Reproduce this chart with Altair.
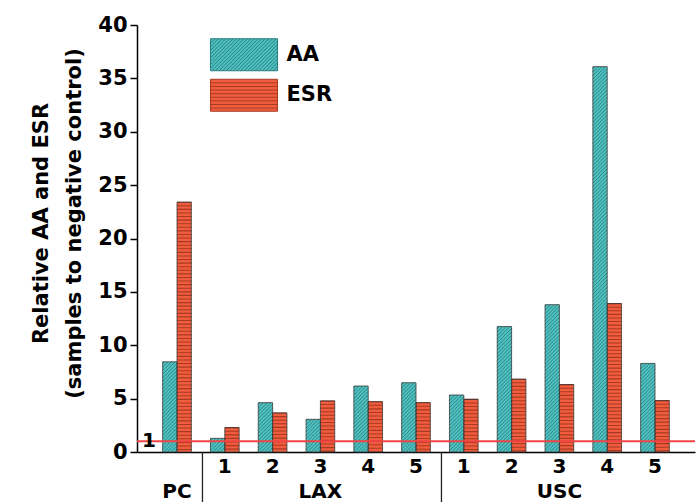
import math

import altair as alt
import pandas as pd

# ---- data -------------------------------------------------------------
categories = ["PC", "LAX-1", "LAX-2", "LAX-3", "LAX-4", "LAX-5",
              "USC-1", "USC-2", "USC-3", "USC-4", "USC-5"]
aa_values = [8.45, 1.28, 4.62, 3.06, 6.18, 6.49, 5.34, 11.75, 13.8, 36.1, 8.3]
esr_values = [23.4, 2.28, 3.65, 4.78, 4.71, 4.62, 4.93, 6.82, 6.31, 13.9, 4.81]
series_names = ["AA", "ESR"]
reference_level = [1]
group_starts = ["LAX-1", "USC-1"]
y_ticks = [0, 5, 10, 15, 20, 25, 30, 35, 40]

# ---- layout / style ---------------------------------------------------
W, H = 558, 427
Y_MAX = 40
PAD_IN, PAD_OUT = 0.4, 0.537
FONT = "DejaVu Sans"

fill_colors = ["#4fc1c0", "#f15d3c"]
hatch_colors = ["#2b7f80", "#a63a26"]
outline_color = "#3a3a3a"
ref_color = "#f04444"

step = W / (len(categories) - PAD_IN + 2 * PAD_OUT)
bar_px = step * (1 - PAD_IN) / 2           # width of one bar in pixels
tile_units = bar_px * Y_MAX / H            # height of a square hatch tile in data units


def diag_lines(a, b, d):
    """'/' hatch lines x + y = c clipped to the box [-a, a] x [-b, b]."""
    segs = []
    k = -100
    while True:
        c = d / 2 + k * d
        k += 1
        if c <= -(a + b):
            continue
        if c >= a + b:
            break
        x0, x1 = max(-a, c - b), min(a, c + b)
        if x1 - x0 > 1e-6:
            segs.append(f"M{x0:.3f},{c - x0:.3f}L{x1:.3f},{c - x1:.3f}")
    return "".join(segs)


def horiz_lines(a, b, d, start):
    segs = []
    y = -b + start * d
    while y < b - 1e-6:
        segs.append(f"M{-a:.3f},{y:.3f}L{a:.3f},{y:.3f}")
        y += d
    return "".join(segs)


# square tiles that repeat seamlessly down a bar
tile_aa = diag_lines(1, 1, 0.5)
tile_esr = horiz_lines(1, 1, 0.5, 0)

# legend swatches: 67 x 32 px boxes with the same hatching
LEG_SIZE = 33.5 ** 2
LA, LB = 2.0, 0.955
ld = 3.6 / (33.5 / 2)
rect = f"M{-LA},{-LB}H{LA}V{LB}H{-LA}Z"
legend_shapes = [rect + diag_lines(LA, LB, ld), rect + horiz_lines(LA, LB, ld, 1)]

# ---- tables -----------------------------------------------------------
bars = pd.DataFrame(
    [{"cat": c, "series": s, "value": v}
     for c, a, e in zip(categories, aa_values, esr_values)
     for s, v in zip(series_names, (a, e))]
)

tile_rows = []
for row in bars.itertuples():
    n = math.ceil(row.value / tile_units)
    for j in range(n):
        tile_rows.append({"cat": row.cat, "series": row.series,
                          "value": row.value - (j + 0.5) * tile_units})
tiles = pd.DataFrame(tile_rows)

ref_df = pd.DataFrame({"value": reference_level})
sep_df = pd.DataFrame({"cat": group_starts})

# ---- scales / axes ----------------------------------------------------
x_scale = alt.Scale(domain=categories, paddingInner=PAD_IN, paddingOuter=PAD_OUT)
y_scale = alt.Scale(domain=[0, Y_MAX], nice=False, zero=True)
off_scale = alt.Scale(domain=series_names)

label_expr = (
    "datum.value == 'PC' ? ['', 'PC'] : "
    "(indexof(datum.value, '-3') > 0 ? "
    "[split(datum.value, '-')[1], split(datum.value, '-')[0]] : "
    "split(datum.value, '-')[1])"
)
x_axis = alt.Axis(
    title=None, labelExpr=label_expr, labelAngle=0, ticks=False,
    labelPadding=4, labelLineHeight=25, labelFont=FONT, labelFontSize=20,
    labelFontWeight="bold", labelColor="black", domainColor="black",
    domainWidth=1.5, labelOverlap=False, labelBound=False, grid=False,
)
y_axis = alt.Axis(
    title=["Relative AA and ESR", "(samples to negative control)"],
    values=y_ticks, tickSize=7, tickWidth=1.5, tickColor="black",
    domainColor="black", domainWidth=1.5, labelFont=FONT, labelFontSize=21,
    labelFontWeight="bold", labelColor="black", labelPadding=3, grid=False,
    titleFont=FONT, titleFontSize=21, titleFontWeight="bold", titleColor="black",
    titleLineHeight=33, titleAngle=-90, titleAlign="center",
    titleBaseline="bottom", titleX=-86, titleY=198,
)

X = alt.X("cat:N", scale=x_scale, axis=x_axis, sort=None)
Y = alt.Y("value:Q", scale=y_scale, axis=y_axis)
XO = alt.XOffset("series:N", scale=off_scale)


def make_legend(**extra):
    return alt.Legend(
        title=None, orient="none", legendX=89.5, legendY=12.25, padding=0,
        symbolSize=LEG_SIZE, symbolStrokeWidth=1, symbolOpacity=1, rowPadding=3.5,
        labelFont=FONT, labelFontSize=21, labelFontWeight="bold",
        labelColor="black", labelOffset=25, **extra,
    )


# ---- layers -----------------------------------------------------------
bar_fill = alt.Chart(bars).mark_bar(opacity=1).encode(
    x=X, xOffset=XO, y=Y,
    color=alt.Color("series:N", scale=alt.Scale(domain=series_names, range=fill_colors),
                    legend=make_legend(symbolType=rect, symbolStrokeColor=outline_color)),
)

hatch_aa = alt.Chart(tiles[tiles.series == "AA"]).mark_point(
    shape=tile_aa, size=bar_px ** 2, filled=False, stroke=hatch_colors[0],
    strokeWidth=0.9, opacity=1, clip=True,
).encode(x=X, xOffset=XO, y=Y)

hatch_esr = alt.Chart(tiles[tiles.series == "ESR"]).mark_point(
    shape=tile_esr, size=bar_px ** 2, filled=False, stroke=hatch_colors[1],
    strokeWidth=1.1, opacity=1, clip=True,
).encode(x=X, xOffset=XO, y=Y)

bar_outline = alt.Chart(bars).mark_bar(
    fillOpacity=0, stroke=outline_color, strokeWidth=0.8, opacity=1,
).encode(x=X, xOffset=XO, y=Y)

# hatched swatches for the legend (the points themselves are not drawn)
legend_key = alt.Chart(bars).mark_point(filled=False, opacity=0).encode(
    x=X, xOffset=XO, y=Y,
    stroke=alt.Stroke("series:N", scale=alt.Scale(domain=series_names, range=hatch_colors),
                      legend=make_legend()),
    shape=alt.Shape("series:N", scale=alt.Scale(domain=series_names, range=legend_shapes),
                    legend=make_legend()),
)

ref_line = alt.Chart(ref_df).mark_rule(color=ref_color, strokeWidth=2).encode(y=Y)
ref_label = alt.Chart(ref_df).mark_text(
    font=FONT, fontSize=20, fontWeight="bold", color="black",
    align="center", baseline="middle",
).encode(x=alt.value(12), y=Y, text=alt.Text("value:Q"))

separators = alt.Chart(sep_df).mark_rule(
    color="#222222", strokeWidth=1.3, xOffset=-8,
).encode(
    x=alt.X("cat:N", scale=x_scale, axis=x_axis, sort=None, bandPosition=0),
    y=alt.value(H), y2=alt.value(H + 50),
)

chart = (
    alt.layer(bar_fill, hatch_aa, hatch_esr, bar_outline, legend_key,
              ref_line, ref_label, separators)
    .properties(
        width=W, height=H,
        autosize=alt.AutoSizeParams(type="none"),
        padding={"left": 137, "top": 25, "right": 2, "bottom": 50},
        background="white",
    )
    .configure_view(stroke=None)
)

chart.save("out.html", embed_options={"renderer": "svg", "actions": False})
